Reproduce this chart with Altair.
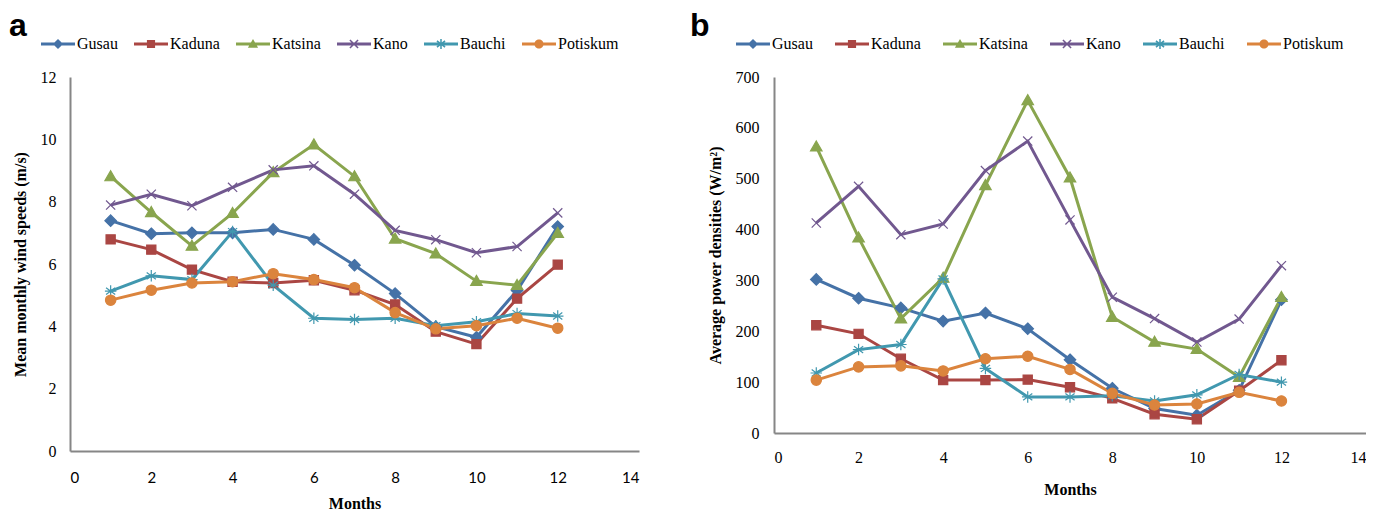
import math
import altair as alt
import pandas as pd

months = list(range(1, 13))
sites = ["Gusau", "Kaduna", "Katsina", "Kano", "Bauchi", "Potiskum"]
colors = ["#4572A7", "#AA4643", "#89A54E", "#71588F", "#4198AF", "#DB843D"]
x_ticks = [0, 2, 4, 6, 8, 10, 12, 14]
ya_ticks = [0, 2, 4, 6, 8, 10, 12]
yb_ticks = [0, 100, 200, 300, 400, 500, 600, 700]

# (a) mean monthly wind speeds (m/s)
ws_gusau = [7.39, 6.97, 7.00, 7.00, 7.11, 6.79, 5.96, 5.05, 3.99, 3.65, 5.15, 7.20]
ws_kaduna = [6.79, 6.46, 5.82, 5.43, 5.39, 5.48, 5.16, 4.70, 3.83, 3.43, 4.89, 5.98]
ws_katsina = [8.81, 7.66, 6.58, 7.63, 8.94, 9.83, 8.81, 6.81, 6.33, 5.45, 5.32, 6.99]
ws_kano = [7.89, 8.24, 7.87, 8.46, 9.02, 9.15, 8.24, 7.08, 6.78, 6.36, 6.56, 7.64]
ws_bauchi = [5.13, 5.62, 5.50, 7.04, 5.32, 4.26, 4.22, 4.26, 4.02, 4.15, 4.41, 4.33]
ws_potiskum = [4.84, 5.16, 5.39, 5.43, 5.69, 5.50, 5.24, 4.44, 3.92, 4.02, 4.26, 3.94]

# (b) average power densities (W/m2)
pd_gusau = [302, 265, 246, 220, 236, 205, 144, 88, 48, 35, 84, 262]
pd_kaduna = [212, 195, 146, 104, 104, 105, 90, 68, 37, 27, 83, 143]
pd_katsina = [563, 384, 225, 305, 487, 654, 502, 228, 179, 165, 110, 267]
pd_kano = [413, 485, 390, 411, 516, 574, 419, 267, 225, 179, 224, 329]
pd_bauchi = [118, 164, 174, 303, 127, 71, 71, 73, 63, 75, 115, 100]
pd_potiskum = [104, 130, 132, 122, 146, 151, 125, 78, 55, 57, 80, 63]


def long_df(series):
    rows = []
    for site, vals in zip(sites, series):
        for m, v in zip(months, vals):
            rows.append({"Month": m, "Site": site, "Value": v})
    return pd.DataFrame(rows)


df_a = long_df([ws_gusau, ws_kaduna, ws_katsina, ws_kano, ws_bauchi, ws_potiskum])
df_b = long_df([pd_gusau, pd_kaduna, pd_katsina, pd_kano, pd_bauchi, pd_potiskum])


def f(v):
    return f"{v:.4f}".rstrip("0").rstrip(".")


def poly(pts):
    # clockwise (screen coords) so overlapping sub-paths stay filled
    area = sum(pts[i][0] * pts[(i + 1) % len(pts)][1] - pts[(i + 1) % len(pts)][0] * pts[i][1]
               for i in range(len(pts)))
    if area < 0:
        pts = pts[::-1]
    return "M" + "L".join(f"{f(x)},{f(y)}" for x, y in pts) + "Z"


def seg(x1, y1, x2, y2, w):
    L = math.hypot(x2 - x1, y2 - y1)
    nx, ny = -(y2 - y1) / L * w, (x2 - x1) / L * w
    return poly([(x1 + nx, y1 + ny), (x2 + nx, y2 + ny), (x2 - nx, y2 - ny), (x1 - nx, y1 - ny)])


def marker(kind, s, solid=False, w=0.045):
    if kind == "diamond":
        return poly([(0, -s), (s, 0), (0, s), (-s, 0)])
    if kind == "square":
        a = 0.8 * s
        return poly([(-a, -a), (a, -a), (a, a), (-a, a)])
    if kind == "triangle":
        return poly([(0, -s), (s, 0.75 * s), (-s, 0.75 * s)])
    if kind == "x":
        a = 0.8 * s
        if solid:
            return seg(-a, -a, a, a, w) + seg(-a, a, a, -a, w)
        return f"M{f(-a)},{f(-a)}L{f(a)},{f(a)}M{f(-a)},{f(a)}L{f(a)},{f(-a)}"
    if kind == "asterisk":
        a, b = 0.8 * s, 0.6 * s
        if solid:
            return seg(0, -s, 0, s, w) + seg(-a, -b, a, b, w) + seg(-a, b, a, -b, w)
        return (f"M0,{f(-s)}L0,{f(s)}M{f(-a)},{f(-b)}L{f(a)},{f(b)}"
                f"M{f(-a)},{f(b)}L{f(a)},{f(-b)}M{f(-s)},0L{f(s)},0")
    r = 0.9 * s
    return f"M{f(-r)},0A{f(r)},{f(r)},0,1,1,{f(r)},0A{f(r)},{f(r)},0,1,1,{f(-r)},0Z"


kinds = ["diamond", "square", "triangle", "x", "asterisk", "circle"]
point_paths = [marker(k, 1.0) for k in kinds]
line_rect = poly([(-1, -0.09), (1, -0.09), (1, 0.09), (-1, 0.09)])
legend_paths = [line_rect + marker(k, 0.3, solid=True) for k in kinds]

color_scale = alt.Scale(domain=sites, range=colors)
legend_shape_scale = alt.Scale(domain=sites, range=legend_paths)


def make_legend(lx, ly, pad):
    return alt.Legend(
        orient="none", legendX=lx, legendY=ly, direction="horizontal", title=None,
        symbolSize=1156, labelFont="Liberation Serif", labelFontSize=16,
        labelColor="black", labelOffset=2, columnPadding=pad, padding=0,
        symbolStrokeWidth=0, symbolOpacity=1,
    )


def panel(df, ydomain, yticks, ytitle, w, h, letter, lx, ly, pad, xlabfont,
          xlabsize, lab_pad_x, title_pad_x, lab_pad_y, title_pad_y, tdx):
    x = alt.X("Month:Q", scale=alt.Scale(domain=[0, 14], nice=False),
              axis=alt.Axis(values=x_ticks, title="Months", labelFont=xlabfont,
                            labelFontSize=xlabsize, labelPadding=lab_pad_x,
                            titlePadding=title_pad_x))
    y = alt.Y("Value:Q", scale=alt.Scale(domain=ydomain, nice=False),
              axis=alt.Axis(values=yticks, title=ytitle, labelPadding=lab_pad_y,
                            titlePadding=title_pad_y))
    leg = make_legend(lx, ly, pad)
    lines = alt.Chart(df).mark_line(strokeWidth=3).encode(
        x=x, y=y,
        color=alt.Color("Site:N", scale=color_scale, legend=leg),
        detail="Site:N",
    )
    # legend keys only (no visible marks): line + marker symbols
    keys = alt.Chart(df).transform_filter("datum.Month < 0").mark_point(
        filled=True, opacity=1, strokeWidth=0
    ).encode(
        x=x, y=y,
        color=alt.Color("Site:N", scale=color_scale, legend=leg),
        shape=alt.Shape("Site:N", scale=legend_shape_scale, legend=leg),
    )
    layers = [lines, keys]
    for site, col, path in zip(sites, colors, point_paths):
        layers.append(
            alt.Chart(df).transform_filter(alt.datum.Site == site).mark_point(
                shape=path, filled=True, fill=col, stroke=col, size=132,
                strokeWidth=1.2, opacity=1
            ).encode(x=x, y=y)
        )
    return alt.layer(*layers).properties(
        width=w, height=h,
        title=alt.TitleParams(letter, anchor="start", frame="group", font="Liberation Sans",
                              fontSize=32, fontWeight="bold", color="black", dx=tdx, offset=-16),
    )


pa = panel(df_a, [0, 12], ya_ticks, "Mean monthly wind speeds (m/s)", 569, 374, "a",
           -29, -50, 16, "Lato", 15, 19, 10, 14, 12, -61)
pb = panel(df_b, [0, 700], yb_ticks, "Average power densities (W/m²)", 592, 356, "b",
           -38, -50, 22, "Liberation Serif", 16, 16, 16, 15, 12, -84)

chart = alt.hconcat(pa, pb, spacing=51).resolve_scale(
    color="independent", shape="independent"
).resolve_legend(color="independent", shape="independent").properties(
    padding={"left": 1, "top": 2, "right": 0, "bottom": 0}
).configure_view(stroke=None).configure_axis(
    domainColor="#868686", domainWidth=2, ticks=False, grid=False,
    labelColor="black", titleColor="black", titleFont="Liberation Serif",
    titleFontWeight="bold", titleFontSize=16, labelFont="Liberation Serif", labelFontSize=16,
)

chart.save("out.html", embed_options={"renderer": "svg", "actions": False})
